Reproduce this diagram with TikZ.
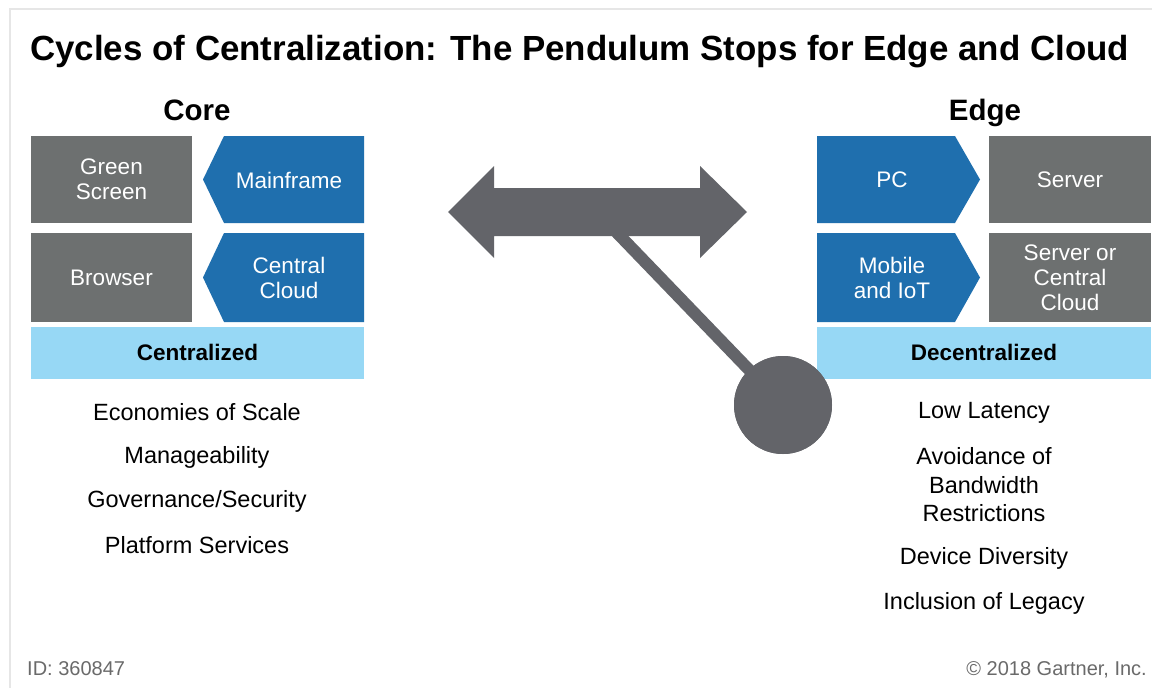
\documentclass[tikz,border=0pt]{standalone}
\usepackage{fontspec}
\setmainfont{Liberation Sans}
\definecolor{pend}{HTML}{636469}
\definecolor{boxgray}{HTML}{6D7070}
\definecolor{boxblue}{HTML}{1F6FAE}
\definecolor{barblue}{HTML}{97D8F5}
\definecolor{frame}{HTML}{E6E6E6}
\definecolor{foot}{HTML}{6A6A6A}
\begin{document}
\begin{tikzpicture}[x=1pt,y=-1pt,
  boxtxt/.style={text=white, align=center, font=\fontsize{22.5}{25}\selectfont, inner sep=0pt},
  graybox/.style={fill=boxgray, minimum width=161pt, minimum height=87pt, inner sep=0pt, text=white, align=center, font=\fontsize{22.5}{25}\selectfont},
  bartxt/.style={font=\bfseries\fontsize{22.5}{25}\selectfont, inner sep=0pt},
  listtxt/.style={font=\fontsize{23.5}{28.5}\selectfont, align=center, inner sep=0pt},
  headtxt/.style={font=\bfseries\fontsize{29.5}{32}\selectfont, inner sep=0pt},
  foottxt/.style={font=\fontsize{20}{22}\selectfont, text=foot, inner sep=0pt}]
\useasboundingbox (0,0) rectangle (1152,688);
\fill[white] (0,0) rectangle (1152,688);
\draw[frame, line width=2pt] (10,688) -- (10,9) -- (1152,9);

% title
\node[anchor=base west, font=\bfseries\fontsize{34.9}{40}\selectfont, inner sep=0pt] (title) at (30,60) {Cycles of Centralization: The Pendulum Stops for Edge and Cloud};

% headers
\node[headtxt, anchor=base] (core) at (197,120) {Core};
\node[headtxt, anchor=base] (edge) at (985,120) {Edge};

% left side
\node[graybox] (green) at (111.5,179.5) {Green\\Screen};
\node[graybox, minimum height=89pt] (browser) at (111.5,277.5) {Browser};
\fill[boxblue] (203,179.5) -- (224,136) -- (364,136) -- (364,223) -- (224,223) -- cycle;
\fill[boxblue] (203,277.5) -- (224,233) -- (364,233) -- (364,322) -- (224,322) -- cycle;
\node[boxtxt] (mainframe) at (289,180) {Mainframe};
\node[boxtxt] (central) at (289,277.5) {Central\\Cloud};
\fill[barblue] (31,327) rectangle (364,379);
\node[bartxt] (centralized) at (197.5,352) {Centralized};

% right side
\fill[boxblue] (817,136) -- (955,136) -- (980,179.5) -- (955,223) -- (817,223) -- cycle;
\fill[boxblue] (817,233) -- (955,233) -- (980,277.5) -- (955,322) -- (817,322) -- cycle;
\node[boxtxt] (pc) at (892,180) {PC};
\node[boxtxt] (mobile) at (892,277.5) {Mobile\\and IoT};
\node[graybox, minimum width=162pt] (server) at (1070,179.5) {Server};
\node[graybox, minimum width=162pt, minimum height=89pt] (serverc) at (1070,277.5) {Server or\\Central\\Cloud};
\fill[barblue] (817,327) rectangle (1151,379);
\node[bartxt] (decentralized) at (984,352) {Decentralized};

% pendulum
\coordinate (pivot) at (597,212);
\node[circle, fill=pend, minimum size=98pt, inner sep=0pt] (bob) at (783,405) {};
\draw[pend, line width=12pt] (pivot) -- (bob.center);
\fill[pend] (448,212) -- (494,166) -- (494,188) -- (700,188) -- (700,166) -- (747,212)
  -- (700,258) -- (700,236) -- (494,236) -- (494,258) -- cycle;
\node[circle, fill=pend, minimum size=98pt, inner sep=0pt] (bob2) at (bob.center) {};

% lists
\node[listtxt] (l1) at (197,412) {Economies of Scale};
\node[listtxt] (l2) at (197,457) {Manageability};
\node[listtxt] (l3) at (197,501) {Governance/Security};
\node[listtxt] (l4) at (197,545) {Platform Services};
\node[listtxt] (r1) at (984,413) {Low Latency};
\node[listtxt] (r2) at (984,485) {Avoidance of\\Bandwidth\\Restrictions};
\node[listtxt] (r3) at (984,558) {Device Diversity};
\node[listtxt] (r4) at (984,603) {Inclusion of Legacy};

% footer
\node[foottxt, anchor=base west] (id) at (27,675) {ID: 360847};
\node[foottxt, anchor=base east] (copy) at (1147,675) {© 2018 Gartner, Inc.};
\end{tikzpicture}
\end{document}
